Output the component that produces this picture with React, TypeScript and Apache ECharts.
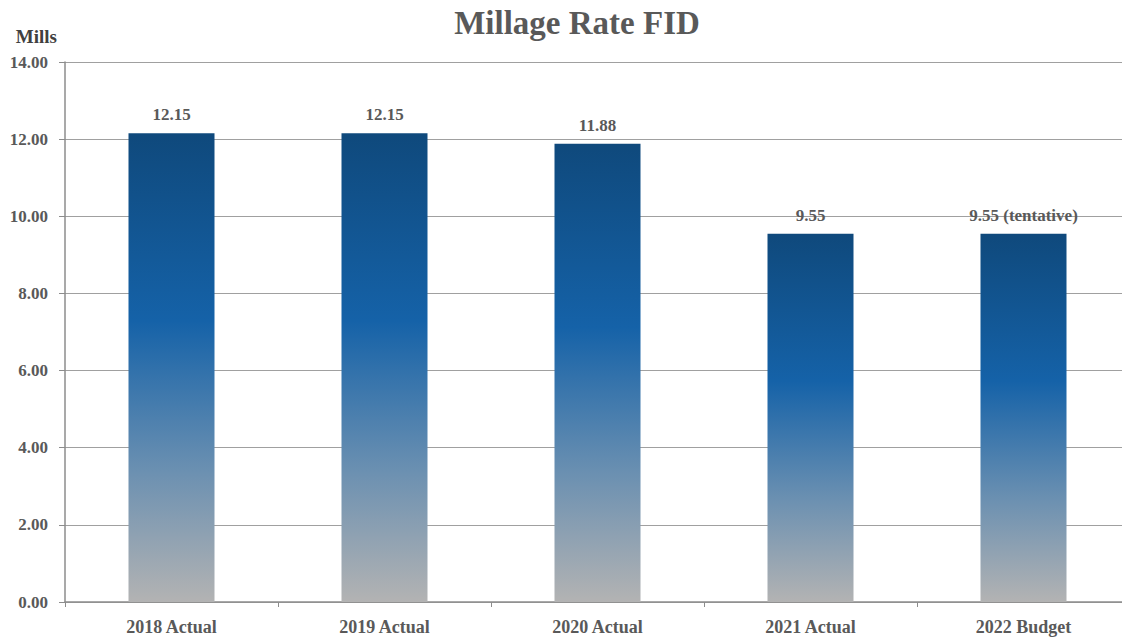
import React, { useEffect, useRef } from "react";
import * as echarts from "echarts";

const categories = ["2018 Actual", "2019 Actual", "2020 Actual", "2021 Actual", "2022 Budget"];
const values = [12.15, 12.15, 11.88, 9.55, 9.55];
const labelTexts = ["12.15", "12.15", "11.88", "9.55", "9.55 (tentative)"];

const FONT = "'Liberation Serif', 'DejaVu Serif', serif";

export default function App() {
  const ref = useRef<HTMLDivElement>(null);
  useEffect(() => {
    if (!ref.current) return;
    const chart = echarts.init(ref.current, null, { renderer: "svg" });
    const grad = new echarts.graphic.LinearGradient(0, 0, 0, 1, [
      { offset: 0, color: "#0f497c" },
      { offset: 0.4, color: "#1562a8" },
      { offset: 0.72, color: "#6b90b1" },
      { offset: 1, color: "#b3b3b3" },
    ]);
    chart.setOption({
      animation: false,
      textStyle: { fontFamily: FONT },
      title: {
        text: "Millage Rate FID",
        left: 572,
        textAlign: "center",
        top: 1,
        textStyle: { fontFamily: FONT, fontSize: 33, fontWeight: "bold", color: "#595959" },
      },
      grid: { left: 65, right: 0, top: 62, bottom: 36, containLabel: false },
      xAxis: {
        type: "category",
        data: categories,
        axisLine: { lineStyle: { color: "#8c8c8c", width: 1.5 } },
        axisTick: { show: true, length: 5, lineStyle: { color: "#8c8c8c" } },
        axisLabel: { fontFamily: FONT, fontSize: 18, fontWeight: "bold", color: "#595959", margin: 16 },
      },
      yAxis: {
        type: "value",
        min: 0,
        max: 14,
        interval: 2,
        name: "Mills",
        nameLocation: "end",
        nameGap: 16,
        nameTextStyle: { fontFamily: FONT, fontSize: 19, fontWeight: "bold", color: "#404040", align: "right", padding: [0, 8, 0, 0] },
        axisLine: { show: true, lineStyle: { color: "#8c8c8c", width: 1.5 } },
        axisTick: { show: true, length: 6, lineStyle: { color: "#8c8c8c" } },
        axisLabel: {
          fontFamily: FONT,
          fontSize: 17,
          fontWeight: "bold",
          color: "#595959",
          margin: 17,
          formatter: (v: number) => v.toFixed(2),
        },
        splitLine: { lineStyle: { color: "#a0a0a0", width: 1.2 } },
      },
      series: [
        {
          type: "bar",
          data: values,
          barWidth: 86,
          itemStyle: { color: grad },
          label: {
            show: true,
            position: "top",
            distance: 10,
            fontFamily: FONT,
            fontSize: 17,
            fontWeight: "bold",
            color: "#595959",
            formatter: (p: any) => labelTexts[p.dataIndex],
          },
        },
      ],
    });
    return () => chart.dispose();
  }, []);
  return (
    <div style={{ position: "fixed", left: 0, top: 0, width: 1122, height: 638, overflow: "hidden", background: "#fff" }}>
      <div ref={ref} style={{ width: 1130, height: 638 }} />
    </div>
  );
}
